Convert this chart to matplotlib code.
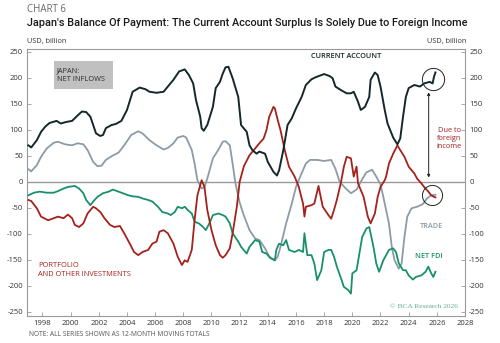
import matplotlib
matplotlib.use("Agg")
import matplotlib.pyplot as plt
import numpy as np

# ---------------- data (12-month moving totals, USD bn) ----------------
ca_years = [1997.0, 1997.2, 1997.6, 1997.9, 1998.2, 1998.5, 1999.0, 1999.3, 1999.7, 2000.1, 2000.4, 2000.8,
            2001.1, 2001.4, 2001.6, 2001.8, 2002.1, 2002.3, 2002.5, 2002.9, 2003.2, 2003.6, 2004.0, 2004.4,
            2004.9, 2005.3, 2005.6, 2006.1, 2006.6, 2006.9, 2007.3, 2007.7, 2008.1, 2008.4, 2008.7, 2008.9,
            2009.2, 2009.3, 2009.45, 2009.7, 2010.1, 2010.3, 2010.6, 2010.8, 2011.0, 2011.2, 2011.5, 2011.9,
            2012.1, 2012.5, 2012.7, 2012.9, 2013.2, 2013.4, 2013.8, 2014.0, 2014.4, 2014.65, 2014.8, 2015.1,
            2015.4, 2015.7, 2016.0, 2016.4, 2016.7, 2017.1, 2017.4, 2017.8, 2018.0, 2018.4, 2018.6, 2018.8,
            2019.2, 2019.6, 2019.9, 2020.1, 2020.4, 2020.6, 2020.9, 2021.2, 2021.3, 2021.6, 2021.8, 2022.0,
            2022.3, 2022.5, 2022.9, 2023.2, 2023.4, 2023.6, 2023.8, 2024.0, 2024.4, 2024.8, 2025.1, 2025.5,
            2025.7, 2025.8, 2025.9]
ca_vals = [70, 66, 80, 96, 106, 113, 117, 112, 115, 117, 125, 135,
           134, 125, 109, 93, 88, 90, 103, 109, 111, 117, 138, 173,
           181, 178, 173, 171, 173, 183, 196, 212, 216, 205, 189, 157,
           125, 103, 98, 109, 144, 180, 192, 208, 220, 221, 199, 163,
           109, 96, 70, 61, 54, 58, 54, 38, 19, 12, 22, 61,
           109, 122, 141, 163, 186, 197, 201, 205, 207, 203, 199, 183,
           176, 170, 170, 173, 154, 138, 144, 163, 196, 210, 205, 183,
           138, 112, 85, 72, 83, 125, 163, 180, 186, 183, 189, 192,
           189, 202, 210]

trade_years = [1997.0, 1997.2, 1997.6, 1997.9, 1998.3, 1998.8, 1999.1, 1999.6, 2000.1, 2000.5, 2000.9, 2001.2,
               2001.6, 2001.9, 2002.2, 2002.5, 2002.9, 2003.4, 2003.8, 2004.3, 2004.8, 2005.1, 2005.6, 2006.1,
               2006.6, 2006.9, 2007.3, 2007.6, 2008.0, 2008.2, 2008.6, 2008.8, 2009.0, 2009.3, 2009.5, 2009.7,
               2010.1, 2010.5, 2010.8, 2011.0, 2011.3, 2011.5, 2011.7, 2012.0, 2012.3, 2012.7, 2013.1, 2013.4,
               2013.8, 2014.1, 2014.5, 2014.7, 2014.9, 2015.3, 2015.7, 2016.0, 2016.3, 2016.7, 2017.0, 2017.5,
               2018.0, 2018.5, 2018.8, 2019.1, 2019.5, 2019.9, 2020.3, 2020.7, 2021.0, 2021.4, 2021.7, 2022.0,
               2022.2, 2022.6, 2022.8, 2023.0, 2023.3, 2023.5, 2023.7, 2023.9, 2024.2, 2024.6, 2025.0, 2025.3,
               2025.6, 2025.9]
trade_vals = [24, 20, 32, 48, 64, 75, 77, 72, 70, 74, 72, 61,
              38, 30, 31, 42, 49, 56, 70, 90, 97, 93, 80, 70,
              62, 65, 74, 85, 88, 85, 61, 35, 3, -13, -10, 6,
              45, 62, 77, 78, 70, 35, -3, -40, -65, -93, -109, -112,
              -128, -144, -151, -144, -125, -80, -42, -10, 10, 35, 42, 42,
              40, 42, 25, 0, -12, -22, -15, 5, 18, 23, 10, -5,
              -29, -80, -125, -151, -167, -157, -106, -67, -51, -48, -43, -32,
              -26, -25]

port_years = [1997.0, 1997.2, 1997.6, 1997.9, 1998.4, 1998.8, 1999.1, 1999.5, 1999.8, 2000.1, 2000.3, 2000.6,
              2000.9, 2001.2, 2001.6, 2001.8, 2002.1, 2002.4, 2002.8, 2003.1, 2003.5, 2003.8, 2004.2, 2004.5,
              2004.8, 2005.1, 2005.5, 2005.8, 2006.1, 2006.3, 2006.6, 2006.9, 2007.3, 2007.6, 2007.9, 2008.1,
              2008.3, 2008.6, 2008.8, 2009.0, 2009.3, 2009.5, 2009.7, 2010.0, 2010.3, 2010.6, 2010.8, 2011.0,
              2011.3, 2011.5, 2011.8, 2012.0, 2012.3, 2012.7, 2013.1, 2013.4, 2013.7, 2013.9, 2014.1, 2014.4,
              2014.5, 2014.7, 2014.9, 2015.2, 2015.5, 2015.9, 2016.1, 2016.2, 2016.5, 2016.6, 2016.7, 2017.1,
              2017.3, 2017.6, 2017.7, 2017.9, 2018.3, 2018.5, 2018.7, 2018.9, 2019.2, 2019.4, 2019.6, 2019.9,
              2020.1, 2020.3, 2020.4, 2020.6, 2020.8, 2021.1, 2021.3, 2021.6, 2021.8, 2022.0, 2022.3, 2022.4,
              2022.6, 2022.9, 2023.2, 2023.4, 2023.7, 2024.0, 2024.4, 2024.6, 2024.9, 2025.1, 2025.4, 2025.6,
              2025.8, 2025.9]
port_vals = [-35, -37, -51, -67, -74, -70, -67, -70, -63, -70, -83, -87,
             -80, -61, -48, -51, -58, -70, -83, -87, -85, -99, -119, -135,
             -141, -135, -131, -119, -115, -96, -93, -99, -119, -144, -160, -151,
             -154, -131, -74, -26, 3, -10, -54, -93, -122, -141, -146, -141,
             -128, -99, -48, 0, 30, 51, 64, 74, 83, 99, 125, 144,
             141, 119, 99, 61, 29, 10, -3, -10, -42, -67, -48, -45,
             -42, -8, -22, -48, -64, -71, -54, -35, 0, 29, 48, 45,
             10, 29, -3, -16, -29, -67, -80, -61, -29, -10, 3, 10,
             35, 54, 70, 61, 48, 29, 16, 6, -3, -10, -19, -26,
             -29, -30]

fdi_years = [1997.0, 1997.4, 1997.8, 1998.3, 1998.8, 1999.1, 1999.5, 1999.8, 2000.3, 2000.6, 2000.9, 2001.1,
             2001.4, 2001.6, 2001.9, 2002.3, 2002.7, 2003.0, 2003.4, 2003.7, 2004.1, 2004.4, 2004.8, 2005.1,
             2005.5, 2005.8, 2006.2, 2006.5, 2006.9, 2007.1, 2007.4, 2007.6, 2007.9, 2008.1, 2008.3, 2008.6,
             2008.8, 2009.1, 2009.4, 2009.6, 2009.9, 2010.1, 2010.5, 2010.8, 2011.0, 2011.3, 2011.5, 2011.9,
             2012.1, 2012.5, 2012.7, 2013.1, 2013.4, 2013.6, 2013.9, 2014.2, 2014.5, 2014.6, 2014.8, 2015.1,
             2015.3, 2015.5, 2015.9, 2016.2, 2016.5, 2016.6, 2016.8, 2017.1, 2017.3, 2017.5, 2017.8, 2018.0,
             2018.3, 2018.5, 2018.7, 2018.9, 2019.2, 2019.4, 2019.7, 2019.9, 2020.0, 2020.3, 2020.5, 2020.7,
             2021.0, 2021.2, 2021.5, 2021.7, 2021.9, 2022.2, 2022.4, 2022.6, 2022.9, 2023.1, 2023.3, 2023.6,
             2023.8, 2024.0, 2024.3, 2024.5, 2024.9, 2025.2, 2025.4, 2025.6, 2025.75, 2025.9]
fdi_vals = [-26, -21, -19, -21, -21, -18, -13, -10, -8, -13, -22, -35,
            -45, -38, -29, -22, -19, -15, -19, -22, -26, -28, -29, -32,
            -35, -38, -48, -58, -61, -64, -58, -48, -51, -48, -54, -61,
            -77, -80, -87, -93, -77, -64, -61, -64, -67, -80, -99, -115,
            -125, -138, -125, -112, -115, -135, -138, -147, -151, -131, -119, -122,
            -112, -131, -135, -131, -135, -99, -141, -141, -157, -189, -170, -135,
            -131, -131, -144, -163, -186, -202, -208, -215, -176, -170, -138, -106,
            -90, -87, -125, -157, -173, -151, -141, -131, -128, -135, -157, -170,
            -170, -180, -188, -183, -180, -173, -163, -176, -183, -173]

ytick_vals = [250, 200, 150, 100, 50, 0, -50, -100, -150, -200, -250]
xtick_years = list(range(1998, 2029, 2))

# ---------------- styles ----------------
C_CA = "#14282a"
C_TR = "#8c9ba6"
C_PO = "#a6211c"
C_FDI = "#18906c"
C_AX = "#9a9a9a"
C_TXT = "#333333"

plt.rcParams['font.family'] = ['Open Sans', 'DejaVu Sans']

W, H = 500, 343
fig = plt.figure(figsize=(5.0, 3.43), dpi=100)
ax = fig.add_axes([27 / W, 1 - 316 / H, (465 - 27) / W, (316 - 49.3) / H])

def fx(px):
    return px / W

def fy(py):
    return 1 - py / H

ax.axhline(0, color=C_AX, lw=1.0, zorder=1)
ax.plot(trade_years, trade_vals, color=C_TR, lw=1.3, zorder=2)
ax.plot(fdi_years, fdi_vals, color=C_FDI, lw=1.3, zorder=3)
ax.plot(port_years, port_vals, color=C_PO, lw=1.3, zorder=4)
ax.plot(ca_years, ca_vals, color=C_CA, lw=1.4, zorder=5)

ax.set_xlim(1996.9, 2028.0)
ax.set_ylim(-258, 254.6)
ax.set_xticks(xtick_years)
ax.set_xticklabels([str(y) for y in xtick_years])
ax.set_yticks(ytick_vals)
ax.set_yticklabels([str(v) for v in ytick_vals])
ax.tick_params(axis='both', direction='in', length=3, width=0.6, colors=C_AX,
               labelcolor=C_TXT, labelsize=5.5, pad=3)
ax.tick_params(axis='y', left=True, right=True, labelleft=True, labelright=True)
for s in ax.spines.values():
    s.set_color(C_AX)
    s.set_linewidth(0.8)

# circles around latest points (centered on the series ends)
ax.plot([np.mean(ca_years[-4:])], [np.mean(ca_vals[-4:])], marker='o', ms=16, mfc='none',
        mec='#222222', mew=0.7, zorder=6)
ax.plot([np.mean(port_years[-4:])], [np.mean(port_vals[-4:])], marker='o', ms=14.5, mfc='none',
        mec='#222222', mew=0.7, zorder=6)

# arrow "due to foreign income"
ax.annotate("", xy=(2025.42, 8), xytext=(2025.42, 172),
            arrowprops=dict(arrowstyle="<|-|>", color="#222222", lw=0.7,
                            mutation_scale=4, shrinkA=0, shrinkB=0), zorder=6)

# ---------------- texts ----------------
fig.text(fx(27), fy(9), "CHART 6", fontsize=7, color="#666666", va='center', ha='left')
fig.text(fx(27), fy(22.5), "Japan's Balance Of Payment: The Current Account Surplus Is Solely Due to Foreign Income",
         fontsize=7.8, color="#1a1a1a", va='center', ha='left', fontweight='medium',
         family=['Roboto', 'DejaVu Sans'])
fig.text(fx(27), fy(41), "USD, billion", fontsize=5.3, color=C_TXT, va='center', ha='left')
fig.text(fx(466), fy(41), "USD, billion", fontsize=5.3, color=C_TXT, va='center', ha='right')
fig.text(fx(29), fy(334), "NOTE: ALL SERIES SHOWN AS 12-MONTH MOVING TOTALS", fontsize=4.8,
         color="#555555", va='center', ha='left')

fig.patches.append(plt.Rectangle((fx(54), fy(89)), (113 - 54) / W, (89 - 61) / H,
                                 transform=fig.transFigure, facecolor="#c0c0c0", edgecolor='none'))
fig.text(fx(57), fy(75), "JAPAN:\nNET INFLOWS", fontsize=5.3, color="#2a2a2a", va='center', ha='left',
         linespacing=1.35)

fig.text(fx(346), fy(57), "CURRENT ACCOUNT", fontsize=5.3, color=C_CA, va='center', ha='center',
         fontweight='semibold')
fig.text(fx(443), fy(227), "TRADE", fontsize=5.3, color=C_TR, va='center', ha='right', fontweight='semibold')
fig.text(fx(443), fy(257), "NET FDI", fontsize=5.3, color=C_FDI, va='center', ha='right', fontweight='semibold')
fig.text(fx(38), fy(270), "PORTFOLIO\nAND OTHER INVESTMENTS", fontsize=5.3, color=C_PO, va='center',
         ha='left', linespacing=1.35)
fig.text(fx(449), fy(138), "Due to\nforeign\nincome", fontsize=5.3, color=C_PO, va='center', ha='center',
         linespacing=1.2)
fig.text(fx(458), fy(306), "© BCA Research 2026", fontsize=5.3, color="#5fae8f", va='center', ha='right',
         family=['Liberation Serif', 'DejaVu Serif'])

fig.savefig("out.png", dpi=100, facecolor='white')
